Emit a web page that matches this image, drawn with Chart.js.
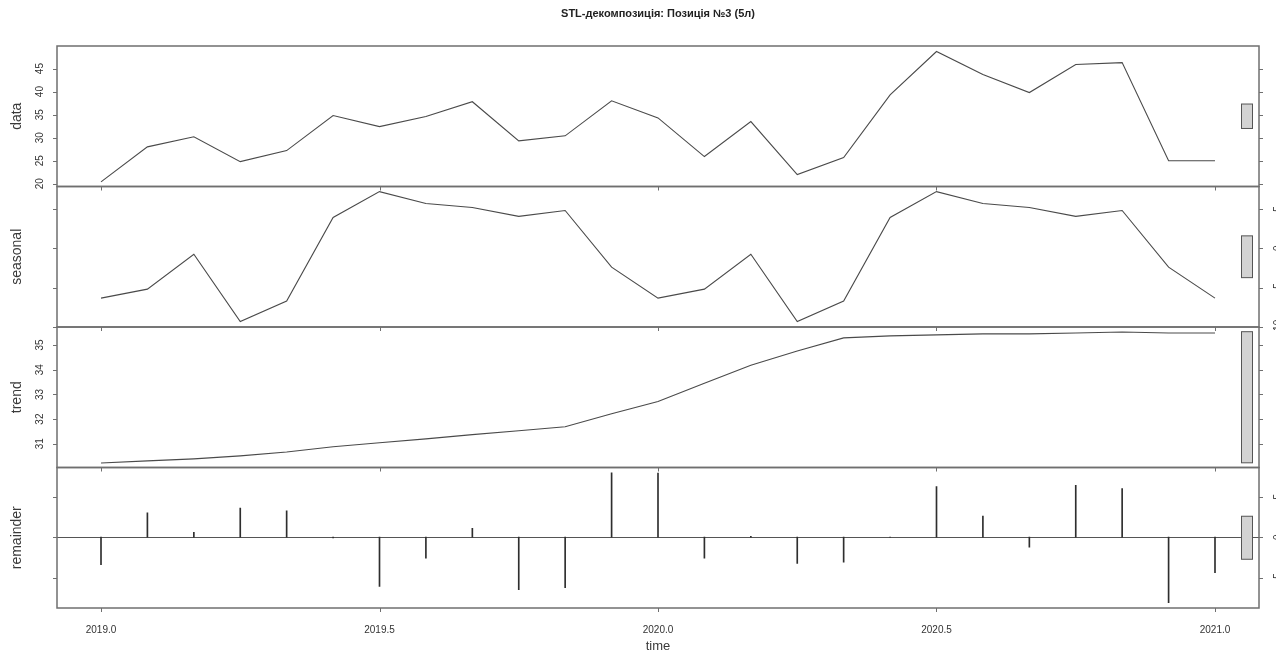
<!DOCTYPE html>
<html>
<head>
<meta charset="utf-8">
<script src="https://cdn.jsdelivr.net/npm/chart.js@4.4.1/dist/chart.umd.min.js"></script>
<style>
  html, body { margin: 0; padding: 0; background: #ffffff; }
  #wrap { width: 1276px; height: 652px; position: relative; }
</style>
</head>
<body>
<div id="wrap"><canvas id="stl" width="1276" height="652"></canvas></div>
<script>
// Monthly observations, Jan 2019 .. Jan 2021
const timePoints = [
  2019.0000, 2019.0833, 2019.1667, 2019.2500, 2019.3333, 2019.4167,
  2019.5000, 2019.5833, 2019.6667, 2019.7500, 2019.8333, 2019.9167,
  2020.0000, 2020.0833, 2020.1667, 2020.2500, 2020.3333, 2020.4167,
  2020.5000, 2020.5833, 2020.6667, 2020.7500, 2020.8333, 2020.9167,
  2021.0000
];
const dataValues = [
  20.4, 28.0, 30.2, 24.8, 27.2, 34.8, 32.4, 34.6, 37.8, 29.3, 30.4, 38.0,
  34.3, 25.9, 33.5, 22.0, 25.7, 39.3, 48.7, 43.7, 39.8, 45.9, 46.3, 25.0,
  25.0
];
const seasonalValues = [
  -6.33, -5.19, -0.76, -9.30, -6.70, 3.92, 7.20, 5.70, 5.19, 4.05, 4.80, -2.40,
  -6.33, -5.19, -0.76, -9.30, -6.70, 3.92, 7.20, 5.70, 5.19, 4.05, 4.80, -2.40,
  -6.33
];
const trendValues = [
  30.22, 30.31, 30.39, 30.51, 30.67, 30.88, 31.04, 31.20, 31.37, 31.53, 31.69, 32.22,
  32.71, 33.45, 34.18, 34.76, 35.29, 35.37, 35.41, 35.45, 35.45, 35.49, 35.53, 35.49,
  35.49
];
const remainderValues = [
  -3.40, 3.00, 0.60, 3.60, 3.25, -0.10, -6.10, -2.60, 1.10, -6.50, -6.25, 7.95,
  7.90, -2.60, 0.10, -3.25, -3.10, 0.00, 6.25, 2.60, -1.25, 6.40, 6.00, -8.10,
  -4.40
];

// Axis ticks and labels
const xTickValues = [2019.0, 2019.5, 2020.0, 2020.5, 2021.0];
const xTickLabels = ['2019.0', '2019.5', '2020.0', '2020.5', '2021.0'];
const dataTicks = [20, 25, 30, 35, 40, 45];
const seasonalTicks = [-10, -5, 0, 5];
const trendTicks = [31, 32, 33, 34, 35];
const remainderTicks = [-5, 0, 5];
const chartTitle = 'STL-декомпозиція: Позиція №3 (5л)';
const xAxisTitle = 'time';

const asPoints = vals => timePoints.map((t, i) => ({ x: t, y: vals[i] }));

// One entry per stacked panel, top to bottom
const panels = [
  { id: 'yD', name: 'data',      ticks: dataTicks,      side: 'left'  },
  { id: 'yS', name: 'seasonal',  ticks: seasonalTicks,  side: 'right' },
  { id: 'yT', name: 'trend',     ticks: trendTicks,     side: 'left'  },
  { id: 'yR', name: 'remainder', ticks: remainderTicks, side: 'right' }
];

const FRAME = '#6f6f6f';
const TEXT = '#333333';

// Zero reference line in the remainder panel, drawn under the spikes
const zeroLine = {
  id: 'zeroLine',
  beforeDatasetsDraw(chart) {
    const { ctx, chartArea } = chart;
    const y = Math.round(chart.scales.yR.getPixelForValue(0)) + 0.5;
    ctx.save();
    ctx.strokeStyle = '#555555';
    ctx.lineWidth = 1.2;
    ctx.beginPath();
    ctx.moveTo(chartArea.left, y);
    ctx.lineTo(chartArea.right + 4, y);
    ctx.stroke();
    ctx.restore();
  }
};

// Panel frames, ticks, rotated labels, range bars and titles
const stlFrame = {
  id: 'stlFrame',
  afterDraw(chart) {
    const { ctx, chartArea } = chart;
    const xs = chart.scales.x;
    const L = chartArea.left, R = chartArea.right;
    const trendSpan = Math.max(...trendValues) - Math.min(...trendValues);
    ctx.save();

    panels.forEach((p) => {
      const s = chart.scales[p.id];
      const top = s.top, bottom = s.bottom;

      // frame
      ctx.strokeStyle = FRAME;
      ctx.lineWidth = 1.5;
      ctx.strokeRect(L, top, R - L, bottom - top);

      // y ticks on both sides
      ctx.lineWidth = 1;
      ctx.beginPath();
      p.ticks.forEach(v => {
        const y = Math.round(s.getPixelForValue(v)) + 0.5;
        ctx.moveTo(L - 4, y); ctx.lineTo(L, y);
        ctx.moveTo(R, y); ctx.lineTo(R + 4, y);
      });
      // x ticks under each panel
      xTickValues.forEach(t => {
        const x = Math.round(xs.getPixelForValue(t)) + 0.5;
        ctx.moveTo(x, bottom); ctx.lineTo(x, bottom + 4);
      });
      ctx.stroke();

      // y tick labels, parallel to the axis
      ctx.fillStyle = TEXT;
      ctx.font = '10px "Liberation Sans", Arial, sans-serif';
      ctx.textAlign = 'center';
      ctx.textBaseline = 'middle';
      p.ticks.forEach(v => {
        const y = s.getPixelForValue(v);
        const x = p.side === 'left' ? 40 : R + 19;
        ctx.save();
        ctx.translate(x, y);
        ctx.rotate(-Math.PI / 2);
        ctx.fillText(String(v), 0, 0);
        ctx.restore();
      });

      // panel name
      ctx.font = '14px "Liberation Sans", Arial, sans-serif';
      ctx.fillStyle = '#3a3a3a';
      ctx.save();
      ctx.translate(17, (top + bottom) / 2);
      ctx.rotate(-Math.PI / 2);
      ctx.fillText(p.name, 0, 0);
      ctx.restore();

      // range bar: same data length in every panel
      const mid = (s.min + s.max) / 2;
      const yTop = s.getPixelForValue(mid + trendSpan / 2);
      const yBot = s.getPixelForValue(mid - trendSpan / 2);
      ctx.fillStyle = '#d3d3d3';
      ctx.strokeStyle = '#555555';
      ctx.lineWidth = 1;
      ctx.fillRect(1241, yTop, 12, yBot - yTop);
      ctx.strokeRect(1241.5, yTop, 11, yBot - yTop);
    });

    // x labels and title under the last panel
    const last = chart.scales.yR;
    ctx.fillStyle = TEXT;
    ctx.font = '10px "Liberation Sans", Arial, sans-serif';
    ctx.textAlign = 'center';
    ctx.textBaseline = 'middle';
    xTickValues.forEach((t, i) => {
      ctx.fillText(xTickLabels[i], xs.getPixelForValue(t), last.bottom + 22);
    });
    ctx.font = '13px "Liberation Sans", Arial, sans-serif';
    ctx.fillStyle = '#3a3a3a';
    ctx.fillText(xAxisTitle, (L + R) / 2, last.bottom + 38);

    // chart title
    ctx.font = 'bold 11px "Liberation Sans", Arial, sans-serif';
    ctx.fillStyle = '#222222';
    ctx.fillText(chartTitle, (L + R) / 2, 14);
    ctx.restore();
  }
};

const lineStyle = { borderColor: '#4a4a4a', borderWidth: 1.1, pointRadius: 0, tension: 0, fill: false };

new Chart(document.getElementById('stl'), {
  type: 'line',
  data: {
    datasets: [
      { type: 'line', data: asPoints(dataValues), yAxisID: 'yD', ...lineStyle },
      { type: 'line', data: asPoints(seasonalValues), yAxisID: 'yS', ...lineStyle },
      { type: 'line', data: asPoints(trendValues), yAxisID: 'yT', ...lineStyle },
      { type: 'bar', data: asPoints(remainderValues), yAxisID: 'yR',
        backgroundColor: '#2e2e2e', borderWidth: 0, barThickness: 1 }
    ]
  },
  options: {
    responsive: false,
    animation: false,
    devicePixelRatio: 1,
    layout: { padding: { left: 57, right: 17, top: 46, bottom: 44 } },
    plugins: { legend: { display: false }, tooltip: { enabled: false }, title: { display: false } },
    scales: {
      x:  { type: 'linear', offset: false, min: 2018.921, max: 2021.079, display: false },
      yD: { type: 'linear', position: 'left', stack: 'stl', stackWeight: 1, weight: 4, min: 19.4, max: 49.9, display: false },
      yS: { type: 'linear', position: 'left', stack: 'stl', stackWeight: 1, weight: 3, min: -10.0, max: 7.85, display: false },
      yT: { type: 'linear', position: 'left', stack: 'stl', stackWeight: 1, weight: 2, min: 30.04, max: 35.73, display: false },
      yR: { type: 'linear', position: 'left', stack: 'stl', stackWeight: 1, weight: 1, min: -8.75, max: 8.6, display: false }
    }
  },
  plugins: [zeroLine, stlFrame]
});
</script>
</body>
</html>
